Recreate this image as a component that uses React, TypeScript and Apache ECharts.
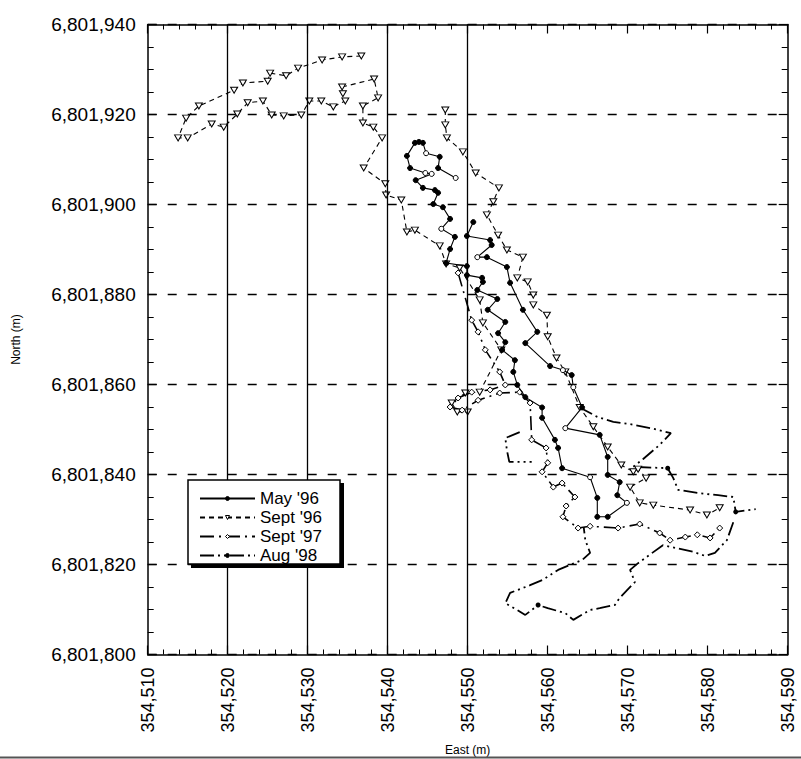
import { useEffect, useRef } from "react";
import * as echarts from "echarts";

const X_MIN = 354510;
const X_MAX = 354590;
const X_STEP = 10;
const Y_MIN = 6801800;
const Y_MAX = 6801940;
const Y_STEP = 20;
const eastGridLines = [354520, 354530, 354540, 354550];
const seriesNames = ["May '96", "Sept '96", "Sept '97", "Aug '98"];

const may96: number[][] = [
  [354548.5, 6801905.9], [354546.3, 6801908.1], [354546.5, 6801910.6], [354544.8, 6801911.4],
  [354544.4, 6801913.7], [354543.9, 6801913.9], [354543.4, 6801913.7], [354542.4, 6801910.8],
  [354542.8, 6801908.1], [354544.7, 6801907.0], [354545.5, 6801906.8], [354543.5, 6801905.4],
  [354544.4, 6801903.7], [354545.9, 6801903.2], [354546.3, 6801902.6], [354545.7, 6801900.1],
  [354546.9, 6801899.4], [354547.8, 6801896.8], [354546.7, 6801894.6], [354548.4, 6801892.8],
  [354547.8, 6801890.1], [354547.3, 6801887.0], [354549.9, 6801886.3], [354549.9, 6801884.3],
  [354551.8, 6801883.7], [354551.9, 6801882.8], [354551.2, 6801881.0], [354553.7, 6801879.0],
  [354552.5, 6801876.6], [354554.7, 6801873.9], [354553.8, 6801871.4], [354554.7, 6801869.4],
  [354554.3, 6801867.7], [354555.9, 6801865.4], [354555.7, 6801862.8], [354556.2, 6801859.9],
  [354557.2, 6801857.2], [354559.3, 6801854.9], [354559.3, 6801852.6], [354560.9, 6801847.7],
  [354561.3, 6801845.9], [354561.8, 6801841.4], [354565.3, 6801839.4], [354566.2, 6801834.8],
  [354566.2, 6801830.6], [354567.5, 6801830.6], [354569.9, 6801833.7], [354568.7, 6801835.4],
  [354569.0, 6801838.3], [354567.5, 6801839.9], [354567.5, 6801843.9], [354566.5, 6801848.8],
  [354562.2, 6801850.3], [354564.3, 6801854.9], [354563.2, 6801859.4], [354563.0, 6801862.1],
  [354561.9, 6801863.2], [354560.3, 6801864.1], [354557.2, 6801869.2], [354558.7, 6801871.7],
  [354556.9, 6801876.6], [354555.3, 6801882.6], [354554.9, 6801886.1], [354552.4, 6801888.3],
  [354551.2, 6801888.3], [354553.0, 6801891.0], [354552.8, 6801892.1], [354549.9, 6801893.0],
  [354550.7, 6801896.1],
];
const may96Open = [0, 3, 9, 10, 18, 42, 46, 52, 54, 56, 64];

const sept96a: number[][] = [
  [354536.7, 6801933.0], [354534.3, 6801932.8], [354531.8, 6801932.1], [354528.8, 6801930.3],
  [354527.3, 6801928.6], [354525.3, 6801929.2], [354525.0, 6801927.4], [354521.9, 6801927.0],
  [354520.8, 6801925.4], [354516.4, 6801921.9], [354514.8, 6801919.2], [354513.8, 6801914.8],
  [354515.0, 6801914.8], [354518.0, 6801917.9], [354519.5, 6801917.2], [354521.2, 6801920.1],
  [354522.5, 6801922.6], [354524.4, 6801923.0], [354525.5, 6801919.9], [354527.0, 6801919.7],
  [354529.2, 6801919.9], [354530.2, 6801923.0], [354531.7, 6801923.0], [354533.2, 6801921.7],
  [354534.7, 6801923.0], [354534.4, 6801924.6], [354534.3, 6801926.1], [354538.3, 6801927.9],
  [354538.8, 6801923.7], [354536.9, 6801921.9], [354536.9, 6801918.1], [354538.2, 6801917.2],
  [354539.3, 6801914.8], [354537.0, 6801908.1], [354539.7, 6801904.6], [354539.8, 6801902.1],
  [354541.7, 6801901.0], [354542.4, 6801893.9], [354543.4, 6801894.3], [354546.5, 6801890.8],
  [354547.3, 6801886.8], [354549.0, 6801885.9], [354551.5, 6801878.8], [354551.9, 6801873.7],
  [354554.2, 6801867.7], [354551.5, 6801858.3], [354549.7, 6801858.1], [354548.0, 6801855.9],
  [354548.7, 6801853.9], [354550.0, 6801853.9],
];

const sept96b: number[][] = [
  [354547.2, 6801921.0], [354547.2, 6801917.7], [354547.4, 6801914.8], [354549.4, 6801911.7],
  [354551.0, 6801907.0], [354553.9, 6801903.7], [354553.2, 6801900.6], [354552.4, 6801897.7],
  [354553.8, 6801893.2], [354554.9, 6801889.9], [354556.9, 6801888.3], [354556.2, 6801883.7],
  [354557.5, 6801882.8], [354558.2, 6801879.9], [354558.2, 6801877.7], [354559.9, 6801875.4],
  [354560.0, 6801870.6], [354561.1, 6801865.9], [354562.2, 6801862.8], [354564.0, 6801854.9],
  [354565.7, 6801850.6], [354567.5, 6801846.1], [354569.2, 6801842.1], [354570.7, 6801840.6],
  [354571.3, 6801841.2], [354572.3, 6801839.2], [354570.3, 6801837.2], [354571.5, 6801833.7],
  [354573.2, 6801833.2], [354577.8, 6801832.1], [354579.9, 6801831.0], [354581.5, 6801832.6],
];

const sept97: number[][] = [
  [354548.8, 6801884.8], [354550.5, 6801874.3], [354551.3, 6801871.7], [354552.2, 6801867.7],
  [354554.0, 6801862.8], [354554.7, 6801859.9], [354552.8, 6801858.8], [354550.5, 6801858.3],
  [354548.8, 6801857.0], [354547.8, 6801855.0], [354549.3, 6801854.3], [354551.3, 6801856.5],
  [354554.0, 6801858.1], [354556.5, 6801858.3], [354557.8, 6801855.9], [354558.0, 6801847.7],
  [354559.8, 6801845.9], [354560.0, 6801842.6], [354559.3, 6801840.6], [354560.7, 6801837.2],
  [354561.8, 6801838.1], [354563.4, 6801835.0], [354562.3, 6801833.0], [354561.9, 6801830.6],
  [354563.8, 6801828.1], [354565.3, 6801828.5], [354568.8, 6801828.1], [354571.5, 6801829.0],
  [354574.0, 6801827.0], [354575.3, 6801825.4], [354577.2, 6801826.1], [354578.7, 6801826.6],
  [354580.3, 6801825.9], [354581.5, 6801828.1],
];

const aug98a: number[][] = [
  [354564.0, 6801854.9], [354566.2, 6801852.8], [354568.2, 6801851.7], [354570.3, 6801851.2],
  [354573.4, 6801850.1], [354575.4, 6801849.2], [354574.0, 6801846.6], [354571.9, 6801843.4],
  [354570.7, 6801841.7], [354575.0, 6801841.4], [354575.7, 6801839.2], [354576.3, 6801836.6],
  [354578.7, 6801835.9], [354581.3, 6801835.4], [354583.2, 6801835.0], [354583.5, 6801831.7],
  [354586.0, 6801832.3],
];
const aug98aMarked = [9, 15];

const aug98b: number[][] = [
  [354583.2, 6801829.4], [354582.4, 6801825.4], [354580.9, 6801822.6], [354579.7, 6801821.9],
  [354578.2, 6801822.8], [354574.4, 6801824.3], [354571.3, 6801820.3], [354570.3, 6801818.8],
  [354570.9, 6801816.1], [354569.0, 6801812.6], [354568.4, 6801811.0], [354566.5, 6801810.3],
  [354565.3, 6801809.9], [354563.2, 6801807.7], [354562.2, 6801809.2], [354560.0, 6801810.3],
  [354558.8, 6801811.0], [354557.2, 6801808.8], [354556.2, 6801809.9], [354554.7, 6801811.4],
  [354555.3, 6801813.7], [354557.8, 6801815.4], [354559.4, 6801816.6], [354561.3, 6801818.8],
  [354564.3, 6801821.0], [354565.3, 6801822.6], [354564.7, 6801825.4], [354564.5, 6801828.3],
];
const aug98bMarked = [16];

const aug98c: number[][] = [
  [354556.5, 6801849.4], [354554.7, 6801848.1], [354554.9, 6801845.4], [354555.2, 6801842.8],
  [354558.0, 6801842.8],
];

const FONT = "'Liberation Sans', Arial, Helvetica, sans-serif";
const fmt = (v: number) => String(Math.round(v)).replace(/\B(?=(\d{3})+(?!\d))/g, ",");
const DOWN_TRI = "path://M0,0 L10,0 L5,9 Z";

function App() {
  const ref = useRef<HTMLDivElement>(null);
  useEffect(() => {
    if (!ref.current) return;
    const chart = echarts.init(ref.current, null, { renderer: "svg" });

    const axisLine = { show: true, onZero: false, lineStyle: { color: "#000", width: 1.5 } };
    const tick = { show: true, inside: true, length: 9, lineStyle: { color: "#000", width: 1.2 } };

    const maySeries = {
      type: "line",
      name: seriesNames[0],
      data: may96.map((p, i) =>
        may96Open.includes(i) ? { value: p, itemStyle: { color: "#fff" } } : p
      ),
      symbol: "circle",
      symbolSize: 5,
      itemStyle: { color: "#000", borderColor: "#000", borderWidth: 1 },
      lineStyle: { color: "#000", width: 1.1, type: "solid" },
      z: 4,
      silent: true,
      markLine: {
        silent: true,
        symbol: ["none", "none"],
        label: { show: false },
        lineStyle: { color: "#000", type: "solid", width: 1.3 },
        data: eastGridLines.map((v) => ({ xAxis: v })),
      },
    };

    const sept96Style = {
      type: "line",
      name: seriesNames[1],
      symbol: DOWN_TRI,
      symbolSize: [7, 6],
      itemStyle: { color: "#fff", borderColor: "#000", borderWidth: 1 },
      lineStyle: { color: "#000", width: 1.1, type: [5, 4] },
      z: 3,
      silent: true,
    };

    const sept97Series = {
      type: "line",
      name: seriesNames[2],
      data: sept97,
      symbol: "diamond",
      symbolSize: 6,
      itemStyle: { color: "#fff", borderColor: "#000", borderWidth: 1 },
      lineStyle: { color: "#000", width: 1.6, type: [14, 5, 2, 5] },
      z: 3,
      silent: true,
    };

    const augStyle = {
      type: "line",
      name: seriesNames[3],
      symbol: "circle",
      symbolSize: 5,
      itemStyle: { color: "#000" },
      lineStyle: { color: "#000", width: 1.8, type: [14, 4, 2, 4, 2, 4] },
      z: 3,
      silent: true,
    };
    const markAug = (arr: number[][], marked: number[]) =>
      arr.map((p, i) => (marked.includes(i) ? { value: p } : { value: p, symbol: "none" }));

    const legendFill = ["#000", "#fff", "#fff", "#000"];

    const option = {
      animation: false,
      textStyle: { fontFamily: FONT, color: "#000" },
      grid: { left: 147.7, right: 13.3, top: 24.5, bottom: 104.5, containLabel: false, outerBoundsMode: "none" },
      xAxis: [
        {
          type: "value",
          min: X_MIN,
          max: X_MAX,
          interval: X_STEP,
          position: "bottom",
          axisLine,
          axisTick: tick,
          minorTick: { show: true, splitNumber: 5, length: 5, lineStyle: { color: "#000", width: 1 } },
          splitLine: { show: false },
          axisLabel: {
            rotate: 90,
            fontSize: 18,
            color: "#000",
            fontFamily: FONT,
            margin: 13,
            formatter: fmt,
            showMinLabel: true,
            showMaxLabel: true,
          },
          name: "East (m)",
          nameLocation: "middle",
          nameGap: 89,
          nameTextStyle: { fontSize: 12, color: "#000", fontFamily: FONT },
        },
        {
          type: "value",
          min: X_MIN,
          max: X_MAX,
          interval: X_STEP,
          position: "top",
          axisLine,
          axisTick: tick,
          minorTick: { show: true, splitNumber: 5, length: 5, lineStyle: { color: "#000", width: 1 } },
          splitLine: { show: false },
          axisLabel: { show: false },
        },
      ],
      yAxis: [
        {
          type: "value",
          min: Y_MIN,
          max: Y_MAX,
          interval: Y_STEP,
          position: "left",
          axisLine,
          axisTick: tick,
          minorTick: { show: true, splitNumber: 4, length: 6, lineStyle: { color: "#000", width: 1 } },
          splitLine: { show: true, lineStyle: { color: "#000", type: [9, 11], width: 1.3 } },
          axisLabel: { fontSize: 19, color: "#000", fontFamily: FONT, margin: 12, formatter: fmt },
          name: "North (m)",
          nameLocation: "middle",
          nameRotate: 90,
          nameGap: 126,
          nameTextStyle: { fontSize: 12, color: "#000", fontFamily: FONT },
        },
        {
          type: "value",
          min: Y_MIN,
          max: Y_MAX,
          interval: Y_STEP,
          position: "right",
          axisLine,
          axisTick: tick,
          minorTick: { show: true, splitNumber: 4, length: 6, lineStyle: { color: "#000", width: 1 } },
          splitLine: { show: false },
          axisLabel: { show: false },
        },
      ],
      legend: {
        orient: "vertical",
        left: 199,
        top: 489,
        padding: 0,
        itemWidth: 55,
        itemHeight: 5,
        itemGap: 0,
        selectedMode: false,
        z: 10,
        data: seriesNames.map((n, i) => ({
          name: n,
          itemStyle: { color: legendFill[i], borderColor: "#000", borderWidth: 1 },
        })),
        textStyle: { fontSize: 17, color: "#000", fontFamily: FONT, lineHeight: 19 },
      },
      graphic: [
        { type: "rect", z: 5, silent: true, shape: { x: 191, y: 483, width: 153, height: 85 }, style: { fill: "#000" } },
        {
          type: "rect",
          z: 6,
          silent: true,
          shape: { x: 188, y: 480, width: 152, height: 84 },
          style: { fill: "#fff", stroke: "#000", lineWidth: 1.5 },
        },
        { type: "line", z: 6, silent: true, shape: { x1: 0, y1: 757.5, x2: 801, y2: 757.5 }, style: { stroke: "#555", lineWidth: 2 } },
      ],
      series: [
        maySeries,
        { ...sept96Style, data: sept96a },
        { ...sept96Style, data: sept96b },
        sept97Series,
        { ...augStyle, data: markAug(aug98a, aug98aMarked) },
        { ...augStyle, data: markAug(aug98b, aug98bMarked) },
        { ...augStyle, data: markAug(aug98c, []) },
      ],
    };

    chart.setOption(option as any);
    return () => chart.dispose();
  }, []);

  return (
    <div
      ref={ref}
      style={{ position: "absolute", left: 0, top: 0, width: 801, height: 759, background: "#fff" }}
    />
  );
}

export default App;
